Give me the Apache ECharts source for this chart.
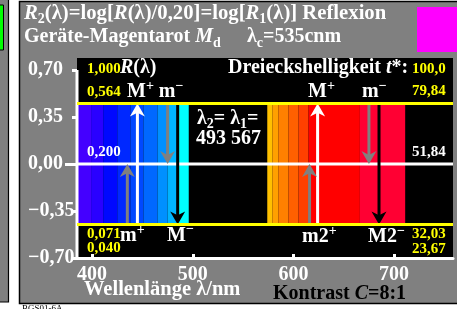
<!DOCTYPE html>
<html><head><meta charset="utf-8">
<script src="https://cdn.jsdelivr.net/npm/echarts@6/dist/echarts.min.js"></script>
<style>html,body{margin:0;padding:0;background:#fff;}#c{width:457px;height:309px;}</style>
</head><body><div id="c"></div>
<script>
// ---- data ----
const xTicks = [400, 500, 600, 700];
const yTicks = [-0.70, -0.35, 0.00, 0.35, 0.70];
const yTickLabels = ['\u22120,70', '\u22120,35', '0,00', '0,35', '0,70'];
const stripeStart = [385, 399, 411, 425, 438, 451, 465, 475, 485, 574, 579, 585, 595, 605, 615, 666];
const stripeEnd   = [399, 411, 425, 438, 451, 465, 475, 485, 496, 579, 585, 595, 605, 615, 666, 711];
const stripeColor = ['#4400ff', '#2a00ff', '#0008ff', '#0028ff', '#0048ff', '#0068ff', '#0090ff', '#00b4ff', '#00ffff',
                     '#ffc000', '#ffa000', '#ff8000', '#ff6000', '#ff4000', '#ff0000', '#ff0033'];
const reflTop = 0.564, reflBottom = 0.071, reflRef = 0.20;
const arrowLambda = [445, 475, 435, 485, 624, 675, 616, 685];
const arrowKind   = ['up', 'down', 'up', 'down', 'up', 'down', 'up', 'down'];
const arrowSpan   = ['full', 'half', 'half', 'full', 'full', 'half', 'half', 'full'];

// ---- derived ----
const yTop = Math.log10(reflTop / reflRef), yBot = Math.log10(reflBottom / reflRef);
const xMin = 385, xMax = 758.5, yMin = -0.70, yMax = 0.79;
const FONT = '"Liberation Serif", "Times New Roman", serif';
const arrowStyle = ['#ffffff', '#808080', '#808080', '#000000'];

const arrowData = arrowLambda.map((l, i) => {
  let y1, y2;
  if (arrowKind[i] === 'up') { y1 = yBot; y2 = arrowSpan[i] === 'full' ? yTop : 0; }
  else { y1 = yTop; y2 = arrowSpan[i] === 'full' ? yBot : 0; }
  return [l, y1, y2, i % 4];
});
const stripeData = stripeStart.map((s, i) => [s, stripeEnd[i], i]);

function tk(size, extra) {
  return Object.assign({fontFamily: FONT, fontWeight: 'bold', fontSize: size, fill: '#fff'}, extra || {});
}
function richSet(size, color) {
  return {
    i: tk(size, {fontStyle: 'italic', fill: color, lineHeight: 26}),
    sub: tk(14, {verticalAlign: 'bottom', lineHeight: 14, fill: color}),
    sup: tk(14, {verticalAlign: 'top', lineHeight: 14, fill: color})
  };
}
function txt(x, y, text, size, color, extra) {
  color = color || '#fff';
  return {
    type: 'text', x: x, y: y, z: 100,
    style: Object.assign({
      text: text, fill: color, fontFamily: FONT, fontWeight: 'bold', fontSize: size,
      lineHeight: 26, verticalAlign: 'middle', align: 'left', rich: richSet(size, color)
    }, extra || {})
  };
}
const BIG = 20, SMALL = 15;

const graphics = [
  {type: 'rect', shape: {x: -2, y: -2, width: 10.5, height: 304}, style: {fill: '#808080', stroke: '#000', lineWidth: 1.2}, z: -10},
  {type: 'rect', shape: {x: -2, y: 5, width: 5.5, height: 45}, style: {fill: '#00ff00', stroke: '#000', lineWidth: 1}, z: -9},
  {type: 'rect', shape: {x: 19.5, y: 1.5, width: 445, height: 302}, style: {fill: '#808080', stroke: '#000', lineWidth: 1.5}, z: -10},
  {type: 'rect', shape: {x: 417, y: 7, width: 45, height: 45}, style: {fill: '#ff00ff'}, z: -9},
  txt(24, 13.5, '{i|R}{sub|2}(\u03bb)=log[{i|R}(\u03bb)/0,20]=log[{i|R}{sub|1}(\u03bb)] Reflexion', 20.7),
  txt(24, 37, 'Ger\u00e4te-Magentarot {i|M}{sub|d}', BIG),
  txt(247, 37, '\u03bb{sub|c}=535cnm', BIG),
  txt(87, 69, '1,000', SMALL, '#ffff00'),
  txt(120, 68, '{i|R}(\u03bb)', BIG),
  txt(228, 67.5, 'Dreieckshelligkeit {i|t}*:', BIG),
  txt(412, 69, '100,0', SMALL, '#ffff00'),
  txt(87, 92, '0,564', SMALL, '#ffff00'),
  txt(127, 92, 'M{sup|+} m{sup|\u2212}', BIG),
  txt(308, 92, 'M{sup|+}', BIG),
  txt(362, 92, 'm{sup|\u2212}', BIG),
  txt(412, 91.5, '79,84', SMALL, '#ffff00'),
  txt(197, 118.5, '\u03bb{sub|2}= \u03bb{sub|1}=', BIG),
  txt(196, 139, '493 567', BIG),
  txt(87, 152.5, '0,200', SMALL),
  txt(412, 152.5, '51,84', SMALL),
  txt(87, 234, '0,071', SMALL, '#ffff00'),
  txt(120, 236, 'm{sup|+}', BIG),
  txt(167, 235.5, 'M{sup|\u2212}', BIG),
  txt(87, 248.5, '0,040', SMALL, '#ffff00'),
  txt(302, 237, 'm2{sup|+}', BIG),
  txt(368, 237, 'M2{sup|\u2212}', BIG),
  txt(412, 234, '32,03', SMALL, '#ffff00'),
  txt(412, 249, '23,67', SMALL, '#ffff00'),
  txt(84, 290, 'Wellenl\u00e4nge \u03bb/nm', 20.5),
  txt(273, 294, 'Kontrast {i|C}=8:1', BIG, '#000'),
  {type: 'text', x: 22, y: 304, z: 100, style: {text: 'BGS01-6A', fill: '#000', fontFamily: FONT, fontSize: 9, verticalAlign: 'top'}}
];

const chart = echarts.init(document.getElementById('c'), null, {renderer: 'canvas', width: 457, height: 309});
chart.setOption({
  animation: false,
  backgroundColor: 'transparent',
  grid: {left: 77, top: 58, width: 376, height: 200, show: true, backgroundColor: '#000', borderWidth: 0},
  xAxis: {
    type: 'value', min: xMin, max: xMax,
    splitLine: {show: false},
    axisLine: {show: true, onZero: false, lineStyle: {color: '#fff', width: 3}},
    axisTick: {show: true, inside: true, length: 4, customValues: xTicks, lineStyle: {color: '#fff', width: 3}},
    axisLabel: {show: true, customValues: xTicks, margin: 7, color: '#fff', fontFamily: FONT, fontWeight: 'bold', fontSize: BIG}
  },
  yAxis: [{
    type: 'value', min: yMin, max: yMax,
    splitLine: {show: false},
    axisLine: {show: false, onZero: false},
    axisTick: {show: true, length: 5, customValues: yTicks, lineStyle: {color: '#fff', width: 3}},
    axisLabel: {show: true, customValues: yTicks, margin: 49, align: 'left', color: '#fff', fontFamily: FONT, fontWeight: 'bold', fontSize: BIG,
      formatter: v => { const k = yTicks.findIndex(t => Math.abs(t - v) < 1e-6); return k >= 0 ? yTickLabels[k] : ''; }}
  }, {
    type: 'value', min: yMin, max: yMax, position: 'left',
    splitLine: {show: false}, axisLine: {show: false, onZero: false}, axisLabel: {show: false},
    axisTick: {show: true, length: 12, customValues: [0], lineStyle: {color: '#fff', width: 3}}
  }],
  series: [
    {
      type: 'custom', z: 1, data: stripeData,
      renderItem: (params, api) => {
        const a = api.coord([api.value(0), yTop]), b = api.coord([api.value(1), yBot]);
        return {type: 'rect', shape: {x: a[0], y: a[1], width: b[0] - a[0], height: b[1] - a[1]},
                style: {fill: stripeColor[api.value(2)]}};
      }
    },
    {type: 'line', z: 3, symbol: 'none', data: [[xMin, 0], [xMax, 0]], lineStyle: {color: '#fff', width: 3}},
    {type: 'line', z: 3, symbol: 'none', data: [[xMin, yTicks[0]], [xMin, yTicks[yTicks.length - 1]]], lineStyle: {color: '#fff', width: 3}},
    {
      type: 'custom', z: 4, data: arrowData,
      renderItem: (params, api) => {
        const x = api.value(0);
        const p1 = api.coord([x, api.value(1)]), p2 = api.coord([x, api.value(2)]);
        const color = arrowStyle[api.value(3)];
        const dir = p2[1] > p1[1] ? 1 : -1;
        const hl = 13, hw = 7.5;
        return {type: 'group', children: [
          {type: 'line', shape: {x1: p1[0], y1: p1[1], x2: p2[0], y2: p2[1] - dir * hl * 0.6}, style: {stroke: color, lineWidth: 3}},
          {type: 'polygon', shape: {points: [[p2[0], p2[1]], [p2[0] - hw, p2[1] - dir * hl], [p2[0], p2[1] - dir * hl * 0.7], [p2[0] + hw, p2[1] - dir * hl]]},
           style: {fill: color}}
        ]};
      }
    },
    {type: 'line', z: 5, symbol: 'none', data: [[xMin, yTop], [xMax, yTop]], lineStyle: {color: '#ffff00', width: 3}},
    {type: 'line', z: 5, symbol: 'none', data: [[xMin, yBot], [xMax, yBot]], lineStyle: {color: '#ffff00', width: 3}}
  ],
  graphic: graphics
});
</script></body></html>
